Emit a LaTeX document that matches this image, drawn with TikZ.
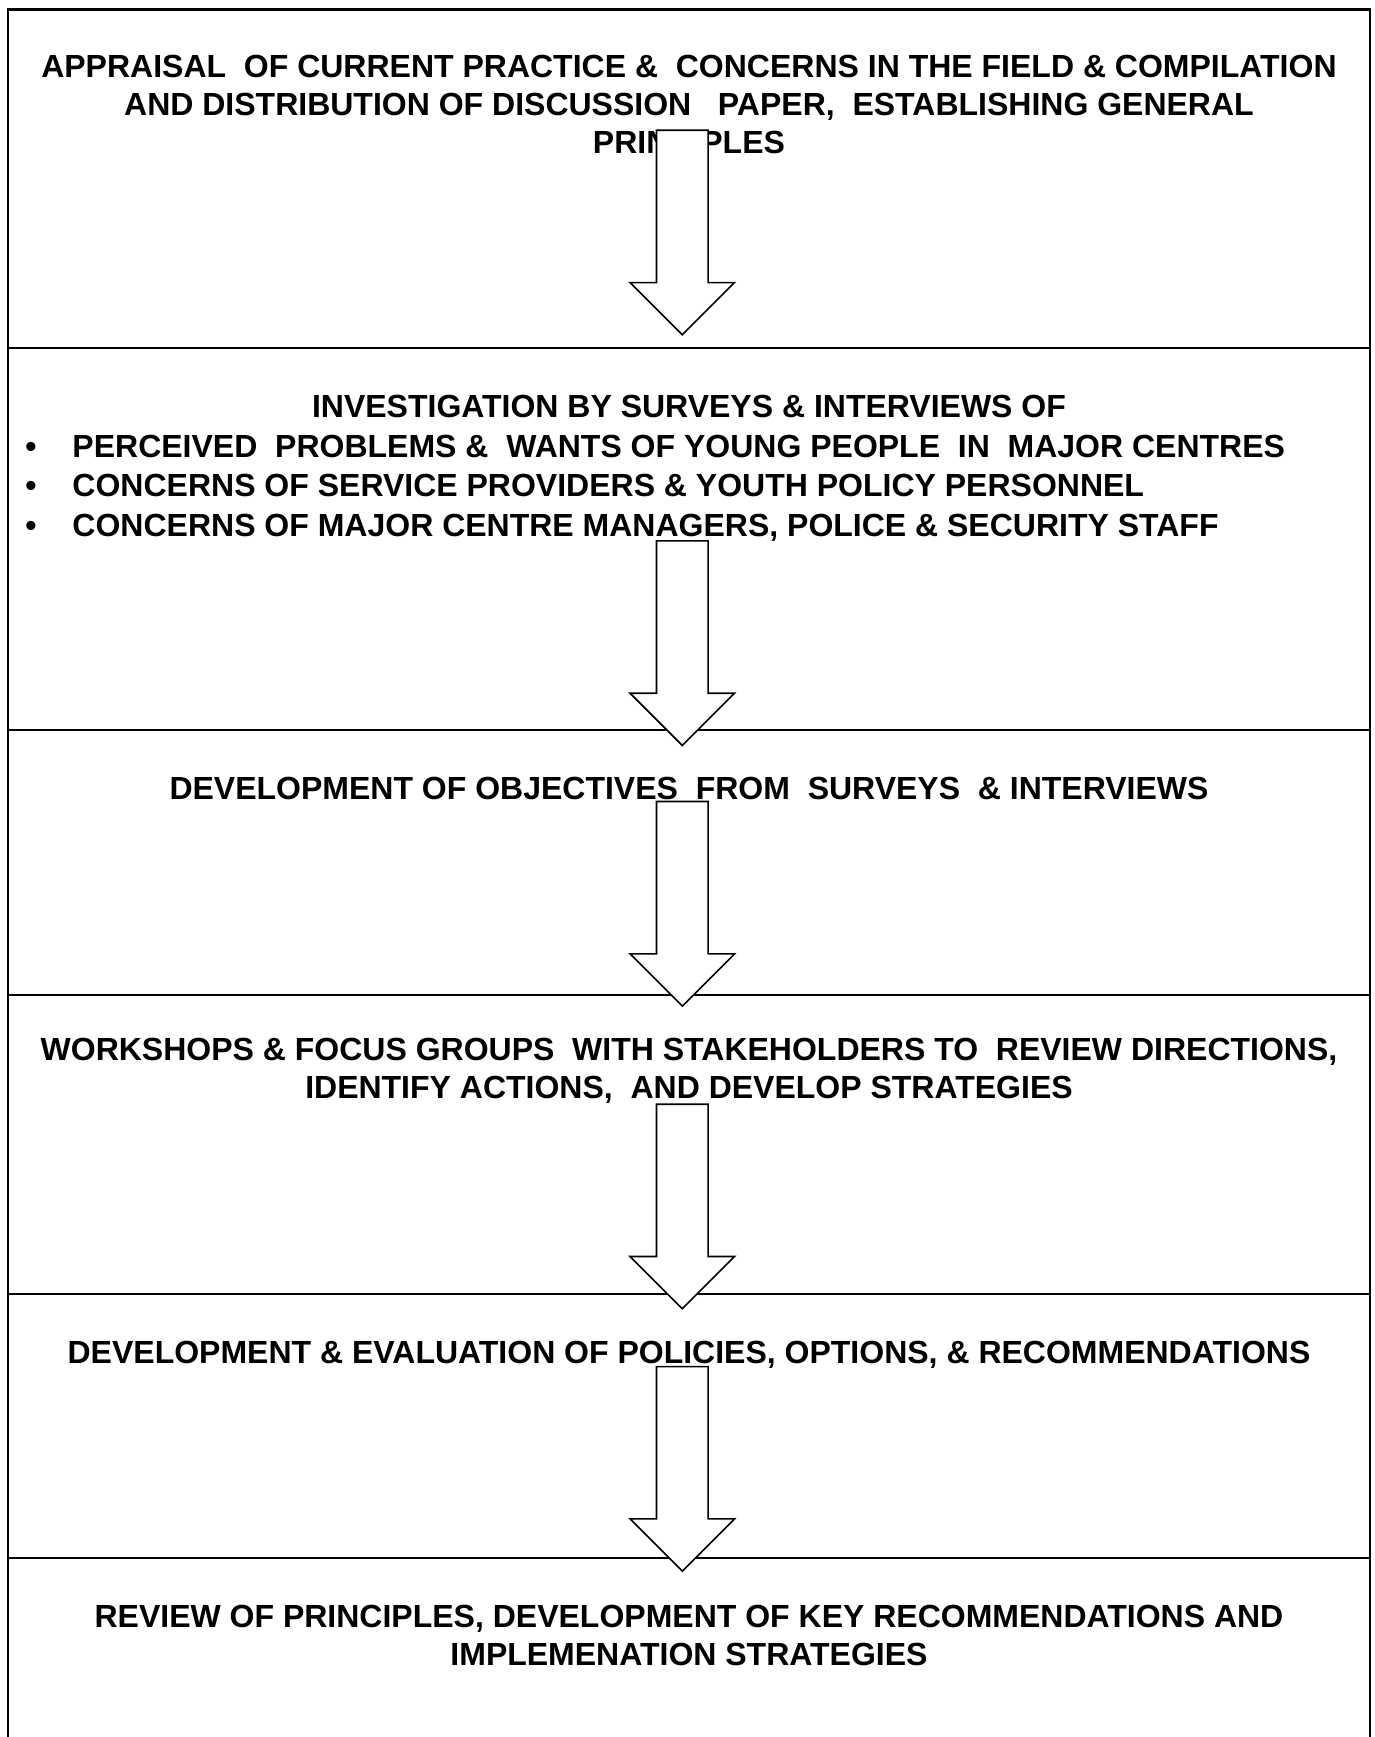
\documentclass[tikz,border=0pt]{standalone}
\usepackage{fontspec}
\setmainfont{Liberation Sans}
\usetikzlibrary{positioning,shapes.arrows}

\begin{document}
\begin{tikzpicture}[
  stage/.style={rectangle, draw=black, line width=0.8pt, minimum width=510.75pt, inner sep=0pt, outer sep=0pt},
  stagetext/.style={align=center, inner sep=0pt, font=\fontsize{12}{14.2}\selectfont\bfseries},
  flowarrow/.style={single arrow, draw=black, fill=white, line width=0.6pt, rotate=-90, anchor=tip,
    inner xsep=0pt, inner ysep=9.375pt, single arrow head extend=9.9pt, minimum height=76.7pt, minimum width=0pt}
]
\clip (0,0) rectangle (515.6pt,-651.4pt);

% Этапы
\node (p1) [stage, minimum height=127.1pt, anchor=north west] at (3pt,-3.56pt) {};
\node (p2) [stage, minimum height=143.05pt, below=0pt of p1] {};
\node (p3) [stage, minimum height=99.4pt, below=0pt of p2] {};
\node (p4) [stage, minimum height=112.1pt, below=0pt of p3] {};
\node (p5) [stage, minimum height=98.9pt, below=0pt of p4] {};
\node (p6) [stage, minimum height=90pt, below=0pt of p5] {};

% Тексты (base = последняя строка)
\node (t1) [stagetext, anchor=base] at ([yshift=-53.95pt]p1.north) {APPRAISAL\ \ OF CURRENT PRACTICE \&\ \ CONCERNS IN THE FIELD \& COMPILATION\\AND DISTRIBUTION OF DISCUSSION\ \ \ PAPER,\ \ ESTABLISHING GENERAL\\PRINCIPLES};
\node (t2) [stagetext, anchor=base] at ([yshift=-26.05pt]p2.north) {INVESTIGATION BY SURVEYS \& INTERVIEWS OF};
\node (t2list) [stagetext, align=left, anchor=base west, font=\fontsize{12}{14.8}\selectfont\bfseries] at ([xshift=6.3pt, yshift=-70.5pt]p2.north west) {\makebox[17.7pt][l]{•}PERCEIVED\ \ PROBLEMS \&\ \ WANTS OF YOUNG PEOPLE\ \ IN\ \ MAJOR CENTRES\\\makebox[17.7pt][l]{•}CONCERNS OF SERVICE PROVIDERS \& YOUTH POLICY PERSONNEL\\\makebox[17.7pt][l]{•}CONCERNS OF MAJOR CENTRE MANAGERS, POLICE \& SECURITY STAFF};
\node (t3) [stagetext, anchor=base] at ([yshift=-26.25pt]p3.north) {DEVELOPMENT OF OBJECTIVES\ \ FROM\ \ SURVEYS\ \ \& INTERVIEWS};
\node (t4) [stagetext, anchor=base] at ([yshift=-38.8pt]p4.north) {WORKSHOPS \& FOCUS GROUPS\ \ WITH STAKEHOLDERS TO\ \ REVIEW DIRECTIONS,\\IDENTIFY ACTIONS,\ \ AND DEVELOP STRATEGIES};
\node (t5) [stagetext, anchor=base] at ([yshift=-26.25pt]p5.north) {DEVELOPMENT \& EVALUATION OF POLICIES, OPTIONS, \& RECOMMENDATIONS};
\node (t6) [stagetext, anchor=base] at ([yshift=-40.6pt]p6.north) {REVIEW OF PRINCIPLES, DEVELOPMENT OF KEY RECOMMENDATIONS AND\\IMPLEMENATION STRATEGIES};

% Стрелки
\node (a1) [flowarrow] at ([xshift=-2.5pt, yshift=4.7pt]p1.south) {};
\node (a2) [flowarrow] at ([xshift=-2.5pt, yshift=-6.26pt]p2.south) {};
\node (a3) [flowarrow] at ([xshift=-2.5pt, yshift=-4.6pt]p3.south) {};
\node (a4) [flowarrow] at ([xshift=-2.5pt, yshift=-6pt]p4.south) {};
\node (a5) [flowarrow] at ([xshift=-2.5pt, yshift=-5.5pt]p5.south) {};

\end{tikzpicture}
\end{document}
